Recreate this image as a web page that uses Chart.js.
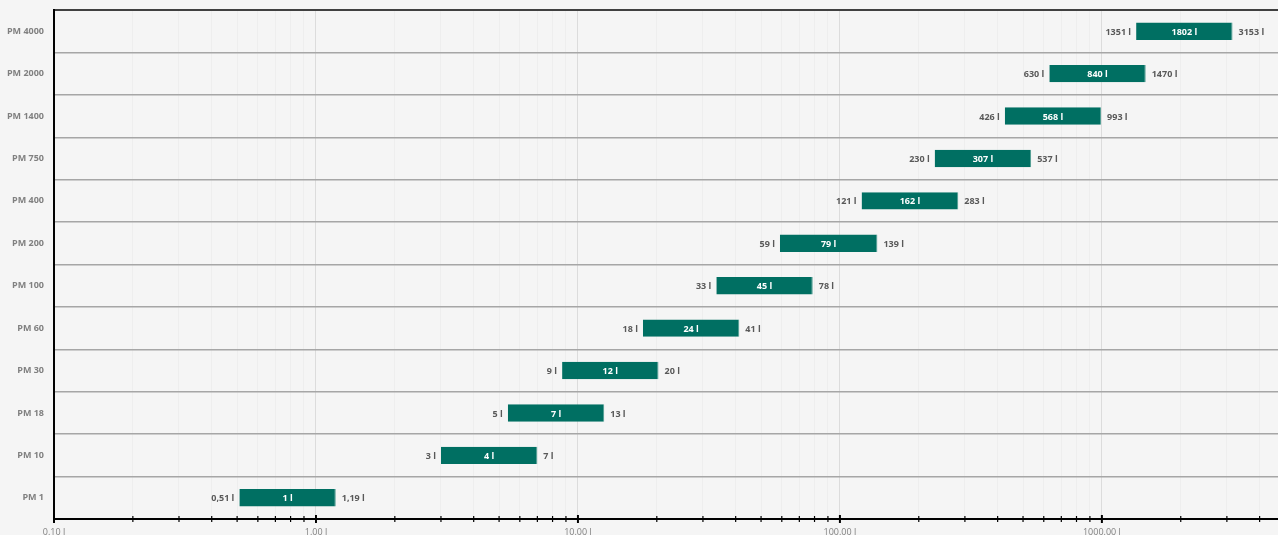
<!DOCTYPE html>
<html>
<head>
<meta charset="utf-8">
<script src="https://cdn.jsdelivr.net/npm/chart.js@4.4.1/dist/chart.umd.min.js"></script>
<style>
  html, body { margin: 0; padding: 0; background: #f5f5f5; overflow: hidden; }
  #wrap { width: 1286px; height: 535px; }
</style>
</head>
<body>
<div id="wrap"><canvas id="c" width="1286" height="535"></canvas></div>
<script>
// ------- data -------
const categories = ['PM 4000', 'PM 2000', 'PM 1400', 'PM 750', 'PM 400', 'PM 200',
                    'PM 100', 'PM 60', 'PM 30', 'PM 18', 'PM 10', 'PM 1'];
// Balkengrenzen (aus der Grafik gelesen)
const lowValues  = [1351, 630, 426, 230, 121, 59, 33.75, 17.7, 8.7, 5.4, 3, 0.51];
const highValues = [3153, 1470, 993, 537, 283, 139, 78.75, 41.3, 20.3, 12.6, 7, 1.19];
// Beschriftungen
const lowLabels  = ['1351 l', '630 l', '426 l', '230 l', '121 l', '59 l', '33 l', '18 l', '9 l', '5 l', '3 l', '0,51 l'];
const midLabels  = ['1802 l', '840 l', '568 l', '307 l', '162 l', '79 l', '45 l', '24 l', '12 l', '7 l', '4 l', '1 l'];
const highLabels = ['3153 l', '1470 l', '993 l', '537 l', '283 l', '139 l', '78 l', '41 l', '20 l', '13 l', '7 l', '1,19 l'];
const majorTicks = [0.1, 1, 10, 100, 1000];
const majorTickLabels = ['0.10 l', '1.00 l', '10.00 l', '100.00 l', '1000.00 l'];
const X_MIN = 0.1, X_MAX = 5000;

const BAR = '#006f62';
const TXT = '#595959';
const AXIS_TXT = '#808080';
const FONT = '"Open Sans", Lato, sans-serif';

// 1..9 pro Dekade, nur innerhalb der Achse
const tickValues = [];
majorTicks.forEach(d => {
  for (let m = 1; m <= 9; m++) {
    const v = +(d * m).toPrecision(3);
    if (v <= X_MAX) tickValues.push(v);
  }
});
const isMajor = v => majorTicks.includes(v);

// keine Zusatzränder durch Achsenbeschriftungen
const noPad = s => { s.paddingLeft = 0; s.paddingRight = 0; s.paddingTop = 0; s.paddingBottom = 0; };

// ------- plugins -------
const barLabels = {
  id: 'barLabels',
  afterDatasetsDraw(chart) {
    const ctx = chart.ctx;
    const meta = chart.getDatasetMeta(0);
    ctx.save();
    ctx.font = `bold 9px ${FONT}`;
    ctx.textBaseline = 'middle';
    meta.data.forEach((bar, i) => {
      const { x, y, base } = bar.getProps(['x', 'y', 'base'], true);
      ctx.fillStyle = TXT;
      ctx.textAlign = 'right';
      ctx.fillText(lowLabels[i], base - 5, y + 1);
      ctx.textAlign = 'left';
      ctx.fillText(highLabels[i], x + 6, y + 1);
      ctx.fillStyle = '#ffffff';
      ctx.textAlign = 'center';
      ctx.fillText(midLabels[i], (x + base) / 2, y + 1);
    });
    ctx.restore();
  }
};

// Teilstriche, die die Achse kreuzen
const crossTicks = {
  id: 'crossTicks',
  afterDraw(chart) {
    const sc = chart.scales.x;
    const ctx = chart.ctx;
    const y0 = chart.chartArea.bottom;
    ctx.save();
    ctx.strokeStyle = '#000';
    sc.ticks.forEach(t => {
      const px = sc.getPixelForValue(t.value);
      const big = isMajor(t.value);
      ctx.lineWidth = big ? 2 : 1.2;
      ctx.beginPath();
      ctx.moveTo(px, y0 - (big ? 4 : 3));
      ctx.lineTo(px, y0 + (big ? 4 : 3));
      ctx.stroke();
    });
    ctx.restore();
  }
};

new Chart(document.getElementById('c'), {
  type: 'bar',
  data: {
    labels: categories,
    datasets: [{
      data: lowValues.map((lo, i) => [lo, highValues[i]]),
      backgroundColor: BAR,
      borderColor: '#4a9a8f',
      borderWidth: { right: 1, left: 0, top: 0, bottom: 0 },
      borderSkipped: false,
      barPercentage: 0.41,
      categoryPercentage: 1
    }]
  },
  options: {
    indexAxis: 'y',
    responsive: false,
    animation: false,
    devicePixelRatio: 1,
    layout: { padding: { top: 10, right: 1, left: 0, bottom: 0 } },
    plugins: { legend: { display: false }, tooltip: { enabled: false } },
    scales: {
      x: {
        type: 'logarithmic',
        min: X_MIN,
        max: X_MAX,
        afterBuildTicks: s => { s.ticks = tickValues.map(v => ({ value: v, major: isMajor(v) })); },
        afterFit: s => { s.height = 16; noPad(s); },
        border: { color: '#000', width: 2 },
        grid: {
          drawTicks: false,
          color: c => (c.tick && isMajor(c.tick.value)) ? '#dcdcdc' : '#eeeeee',
          lineWidth: 1
        },
        ticks: {
          autoSkip: false,
          maxRotation: 0,
          padding: 8,
          color: AXIS_TXT,
          font: { family: FONT, size: 9 },
          callback: function (v) {
            const k = majorTicks.indexOf(+(+v).toPrecision(3));
            return k >= 0 ? majorTickLabels[k] : '';
          }
        }
      },
      y: {
        afterFit: s => { s.width = 54; noPad(s); },
        border: { color: '#000', width: 2 },
        grid: {
          offset: true,
          drawTicks: false,
          color: c => c.index === 0 ? '#404040' : '#a6a6a6',
          lineWidth: c => c.index === 0 ? 2 : 1.5
        },
        ticks: {
          padding: 10,
          color: AXIS_TXT,
          font: { family: FONT, size: 9, weight: 'bold' }
        }
      }
    }
  },
  plugins: [barLabels, crossTicks]
});
</script>
</body>
</html>
